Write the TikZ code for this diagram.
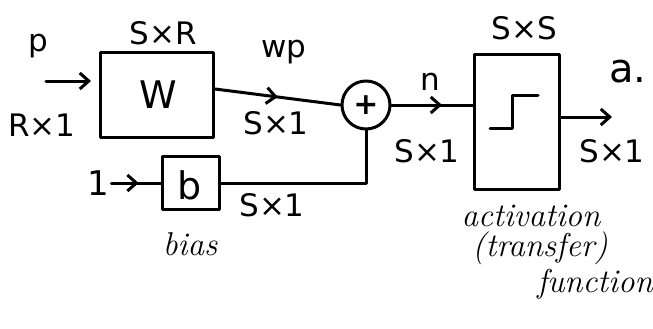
\documentclass[tikz,border=0pt]{standalone}
\usepackage{fontspec}
\setsansfont{DejaVu Sans}
\usetikzlibrary{arrows.meta,decorations.markings}
\begin{document}
\begin{tikzpicture}[x=1pt,y=-1pt,line width=3pt,line cap=round,line join=round,
  blk/.style={draw,minimum width=#1,inner sep=0pt},
  lbl/.style={font=\sffamily\fontsize{31}{33}\selectfont,inner sep=1pt},
  big/.style={font=\sffamily\fontsize{38}{40}\selectfont,inner sep=0pt},
  note/.style={font=\itshape\fontsize{33}{35}\selectfont,inner sep=0pt},
  tip/.style={-{Straight Barb[length=9pt,width=16pt,line width=3pt]}},
  midtip/.style={postaction={decorate},decoration={markings,
     mark=at position #1 with {\arrow{Straight Barb[length=9pt,width=16pt,line width=3pt]}}}}]
\useasboundingbox (0,0) rectangle (653,329);
% blocks
\node[blk=113pt,minimum height=85pt] (W) at (157,95) {};
\node[big] (Wt) at (158,95) {W};
\node[blk=57pt,minimum height=53pt] (B) at (191,183) {};
\node[big] (Bt) at (190,185) {b};
\node[draw,circle,minimum size=48pt,inner sep=0pt,font=\sffamily\bfseries\fontsize{30}{32}\selectfont] (S) at (366,105) {+};
\node[blk=85pt,minimum height=135pt] (A) at (517,122) {};
% step symbol inside activation box
\draw ([xshift=-27pt,yshift=-6pt]A.center) -- ([xshift=-5pt,yshift=-6pt]A.center)
      -- ([xshift=-5pt,yshift=27pt]A.center) -- ([xshift=21pt,yshift=27pt]A.center);
% free ends and inputs
\coordinate (pin) at (46,81);
\node[lbl,font=\sffamily\fontsize{34}{36}\selectfont] (one) at (98,183) {1};
\coordinate (aout) at (612,117);
% connectors
\draw[tip] (pin) -- ([xshift=-8pt,yshift=14pt]W.west);
\draw[midtip=0.5] ([yshift=6pt]W.east) -- (S.west);
\draw[midtip=0.55] (one.east) -- (B.west);
\draw (B.east) -| (S.south);
\draw[midtip=0.62] (S.east) -- (S.east -| A.west);
\draw[tip] ([yshift=5pt]A.east) -- (aout);
% labels
\node[lbl] (lp) at (38,46) {p};
\node[lbl] (lrx1) at (42,125) {R×1};
\node[lbl] (lsxr) at (163,33) {S×R};
\node[lbl] (lwp) at (284,52) {wp};
\node[lbl] (lsx1a) at (276,123) {S×1};
\node[lbl] (lsx1b) at (272,205) {S×1};
\node[lbl] (ln) at (430,82) {n};
\node[lbl] (lsx1c) at (427,151) {S×1};
\node[lbl] (lsxs) at (524,28) {S×S};
\node[lbl,font=\sffamily\fontsize{40}{42}\selectfont] (la) at (628,72) {a.};
\node[lbl] (lsx1d) at (612,151) {S×1};
\node[note] (lbias) at (190,244) {bias};
\node[note] (lact) at (531,216) {activation};
\node[note] (ltr) at (540,248) {(transfer)};
\node[note] (lfn) at (595,284) {function};
\end{tikzpicture}
\end{document}
